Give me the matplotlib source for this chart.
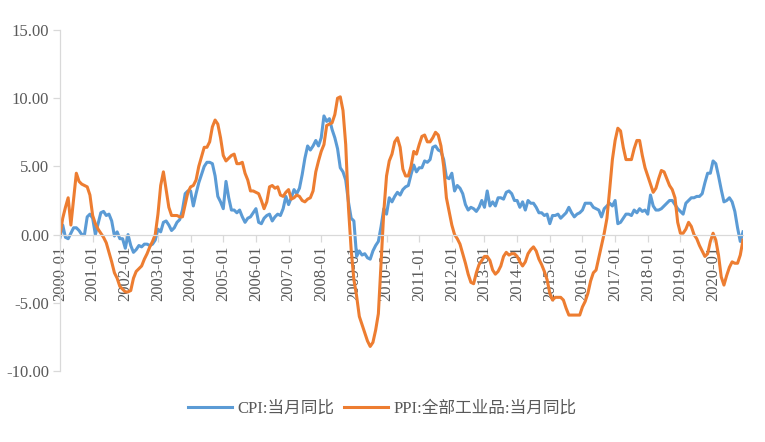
import matplotlib
matplotlib.use("Agg")
import matplotlib.pyplot as plt
from matplotlib.ticker import FixedLocator, FormatStrFormatter
import pandas as pd

start_month = "2000-01"
cpi = [
    -0.2, 0.7, -0.2, -0.3, 0.1, 0.5, 0.5, 0.3, 0.0, 0.0, 1.3, 1.5,
    1.2, 0.0, 0.8, 1.6, 1.7, 1.4, 1.5, 1.0, -0.1, 0.2, -0.3, -0.3,
    -1.0, 0.0, -0.8, -1.3, -1.1, -0.8, -0.9, -0.7, -0.7, -0.8, -0.7, -0.4,
    0.4, 0.2, 0.9, 1.0, 0.7, 0.3, 0.5, 0.9, 1.1, 1.8, 3.0, 3.2,
    3.2, 2.1, 3.0, 3.8, 4.4, 5.0, 5.3, 5.3, 5.2, 4.3, 2.8, 2.4,
    1.9, 3.9, 2.7, 1.8, 1.8, 1.6, 1.8, 1.3, 0.9, 1.2, 1.3, 1.6,
    1.9, 0.9, 0.8, 1.2, 1.4, 1.5, 1.0, 1.3, 1.5, 1.4, 1.9, 2.8,
    2.2, 2.7, 3.3, 3.0, 3.4, 4.4, 5.6, 6.5, 6.2, 6.5, 6.9, 6.5,
    7.1, 8.7, 8.3, 8.5, 7.7, 7.1, 6.3, 4.9, 4.6, 4.0, 2.4, 1.2,
    1.0, -1.6, -1.2, -1.5, -1.4, -1.7, -1.8, -1.2, -0.8, -0.5, 0.6, 1.9,
    1.5, 2.7, 2.4, 2.8, 3.1, 2.9, 3.3, 3.5, 3.6, 4.4, 5.1, 4.6,
    4.9, 4.9, 5.4, 5.3, 5.5, 6.4, 6.5, 6.2, 6.1, 5.5, 4.2, 4.1,
    4.5, 3.2, 3.6, 3.4, 3.0, 2.2, 1.8, 2.0, 1.9, 1.7, 2.0, 2.5,
    2.0, 3.2, 2.1, 2.4, 2.1, 2.7, 2.7, 2.6, 3.1, 3.2, 3.0, 2.5,
    2.5, 2.0, 2.4, 1.8, 2.5, 2.3, 2.3, 2.0, 1.6, 1.6, 1.4, 1.5,
    0.8, 1.4, 1.4, 1.5, 1.2, 1.4, 1.6, 2.0, 1.6, 1.3, 1.5, 1.6,
    1.8, 2.3, 2.3, 2.3, 2.0, 1.9, 1.8, 1.3, 1.9, 2.1, 2.3, 2.1,
    2.5, 0.8, 0.9, 1.2, 1.5, 1.5, 1.4, 1.8, 1.6, 1.9, 1.7, 1.8,
    1.5, 2.9, 2.1, 1.8, 1.8, 1.9, 2.1, 2.3, 2.5, 2.5, 2.2, 1.9,
    1.7, 1.5, 2.3, 2.5, 2.7, 2.7, 2.8, 2.8, 3.0, 3.8, 4.5, 4.5,
    5.4, 5.2, 4.3, 3.3, 2.4, 2.5, 2.7, 2.4, 1.7, 0.5, -0.5, 0.2,
]
ppi = [
    0.0, 1.2, 2.0, 2.7, 0.7, 2.6, 4.5, 3.9, 3.7, 3.6, 3.5, 2.9,
    1.4, 0.8, 0.4, 0.1, -0.2, -0.6, -1.3, -2.0, -2.8, -3.2, -3.8, -4.0,
    -4.2, -4.2, -4.1, -3.2, -2.7, -2.5, -2.3, -1.8, -1.4, -0.9, -0.5, 0.0,
    1.5, 3.6, 4.6, 3.3, 2.0, 1.4, 1.4, 1.4, 1.3, 1.3, 2.2, 3.1,
    3.5, 3.6, 4.0, 5.0, 5.7, 6.4, 6.4, 6.8, 7.9, 8.4, 8.1, 7.1,
    5.8, 5.4, 5.6, 5.8, 5.9, 5.2, 5.2, 5.3, 4.5, 4.0, 3.2, 3.2,
    3.1, 3.0, 2.5, 1.9, 2.4, 3.5, 3.6, 3.4, 3.5, 2.9, 2.8, 3.1,
    3.3, 2.6, 2.7, 2.9, 2.8, 2.5, 2.4, 2.6, 2.7, 3.2, 4.6, 5.4,
    6.1, 6.6, 8.0, 8.1, 8.2, 8.8, 10.0, 10.1, 9.1, 6.6, 2.0, -1.1,
    -3.3, -4.5, -6.0, -6.6, -7.2, -7.8, -8.2, -7.9, -7.0, -5.8, -2.1, 1.7,
    4.3, 5.4, 5.9, 6.8, 7.1, 6.4, 4.8, 4.3, 4.3, 5.0, 6.1, 5.9,
    6.6, 7.2, 7.3, 6.8, 6.8, 7.1, 7.5, 7.3, 6.5, 5.0, 2.7, 1.7,
    0.7, 0.0, -0.3, -0.7, -1.4, -2.1, -2.9, -3.5, -3.6, -2.8, -2.2, -1.9,
    -1.6, -1.6, -1.9, -2.6, -2.9, -2.7, -2.3, -1.6, -1.3, -1.5, -1.4, -1.4,
    -1.6, -2.0, -2.3, -2.0, -1.4, -1.1, -0.9, -1.2, -1.8, -2.2, -2.7, -3.3,
    -4.3, -4.8, -4.6, -4.6, -4.6, -4.8, -5.4, -5.9, -5.9, -5.9, -5.9, -5.9,
    -5.3, -4.9, -4.3, -3.4, -2.8, -2.6, -1.7, -0.8, 0.1, 1.2, 3.3, 5.5,
    6.9, 7.8, 7.6, 6.4, 5.5, 5.5, 5.5, 6.3, 6.9, 6.9, 5.8, 4.9,
    4.3, 3.7, 3.1, 3.4, 4.1, 4.7, 4.6, 4.1, 3.6, 3.3, 2.7, 0.9,
    0.1, 0.1, 0.4, 0.9, 0.6, 0.0, -0.3, -0.8, -1.2, -1.6, -1.4, -0.5,
    0.1, -0.4, -1.5, -3.1, -3.7, -3.0, -2.4, -2.0, -2.1, -2.1, -1.5, -0.4,
]
series_names = ["CPI:当月同比", "PPI:全部工业品:当月同比"]
y_ticks = [-10, -5, 0, 5, 10, 15]

months = pd.date_range(start_month, periods=len(cpi), freq="MS").strftime("%Y-%m")
x = list(range(len(cpi)))
year_pos = [i for i, m in enumerate(months) if m.endswith("-01")]
year_lab = [months[i] for i in year_pos]

plt.rcParams["font.family"] = ["Liberation Serif", "Noto Sans CJK SC", "DejaVu Sans"]
plt.rcParams["axes.unicode_minus"] = False

W, H = 765, 442
fig = plt.figure(figsize=(W / 100, H / 100), dpi=100)
left, right, top, bottom = 60, 743, 30, 371
ax = fig.add_axes([left / W, 1 - bottom / H, (right - left) / W, (bottom - top) / H])

blue = "#5B9BD5"
orange = "#ED7D31"
ax.plot(x, cpi, color=blue, lw=2.2, label=series_names[0], solid_joinstyle="round")
ax.plot(x, ppi, color=orange, lw=2.2, label=series_names[1], solid_joinstyle="round")

ax.set_xlim(0, len(cpi) - 1)
ax.set_ylim(-10, 15)

grey = "#D9D9D9"
txt = "#595959"
for s in ["top", "right"]:
    ax.spines[s].set_visible(False)
ax.spines["left"].set_color(grey)
ax.spines["bottom"].set_color(grey)
ax.spines["bottom"].set_position(("data", 0))
ax.spines["left"].set_linewidth(0.9)
ax.spines["bottom"].set_linewidth(0.9)

ax.yaxis.set_major_locator(FixedLocator(y_ticks))
ax.yaxis.set_major_formatter(FormatStrFormatter("%.2f"))
ax.set_xticks(year_pos)
ax.set_xticklabels(year_lab, rotation=90, va="top", ha="center")
ax.tick_params(axis="y", colors=grey, labelcolor=txt, labelsize=12, length=5, width=0.9, pad=3)
ax.tick_params(axis="x", colors=grey, labelcolor=txt, labelsize=12, length=5, width=0.9, pad=3)

leg = fig.legend(loc="center", bbox_to_anchor=(0.5, 1 - 409 / H), ncol=2, frameon=False,
                 fontsize=12, handlelength=2.6, handletextpad=0.35, columnspacing=0.6,
                 labelcolor=txt)
fig.savefig("out.png", dpi=100)
